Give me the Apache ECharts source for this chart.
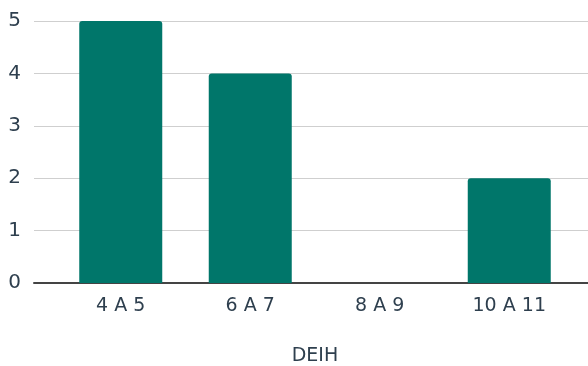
<!DOCTYPE html>
<html>
<head>
<meta charset="utf-8">
<script src="https://cdn.jsdelivr.net/npm/echarts@6/dist/echarts.min.js"></script>
<style>html,body{margin:0;padding:0;background:#fff}#c{width:588px;height:366px}</style>
</head>
<body>
<div id="c"></div>
<script>
const categories = ["4 A 5", "6 A 7", "8 A 9", "10 A 11"];
const values = [5, 4, 0, 2];
const yTicks = [0, 1, 2, 3, 4, 5];
const axisName = "DEIH";

const textColor = "#2e3f4e";
const font = "DejaVu Sans";
const chart = echarts.init(document.getElementById('c'));
chart.setOption({
  animation: false,
  grid: [
    { left: 56, right: 14, top: 21, bottom: 83, outerBoundsMode: 'none', containLabel: false },
    { left: 34, right: 0, top: 21, bottom: 83, outerBoundsMode: 'none', containLabel: false }
  ],
  xAxis: [
    {
      type: 'category', gridIndex: 0, data: categories,
      axisLine: { show: false }, axisTick: { show: false },
      axisLabel: { color: textColor, fontFamily: font, fontSize: 19, margin: 14 },
      name: axisName, nameLocation: 'middle', nameGap: 64, nameMoveOverlap: false,
      nameTextStyle: { color: textColor, fontFamily: font, fontSize: 19 }
    },
    {
      type: 'value', gridIndex: 1, min: 0, max: 1,
      axisLine: { show: true, lineStyle: { color: '#444', width: 2 } },
      axisTick: { show: false }, axisLabel: { show: false }, splitLine: { show: false }
    }
  ],
  yAxis: [
    {
      type: 'value', gridIndex: 0, min: yTicks[0], max: yTicks[yTicks.length - 1], interval: 1,
      axisLine: { show: false }, axisTick: { show: false }, axisLabel: { show: false }, splitLine: { show: false }
    },
    {
      type: 'value', gridIndex: 1, min: yTicks[0], max: yTicks[yTicks.length - 1], interval: 1,
      axisLine: { show: false }, axisTick: { show: false },
      axisLabel: { color: textColor, fontFamily: font, fontSize: 20, margin: 13 },
      splitLine: { show: true, lineStyle: { color: '#cfcfcf', width: 1 } }
    }
  ],
  series: [
    {
      type: 'bar', xAxisIndex: 0, yAxisIndex: 0, data: values, barWidth: 83,
      itemStyle: { color: '#00766a', borderRadius: [3, 3, 0, 0] }, z: 5
    }
  ]
});
</script>
</body>
</html>
